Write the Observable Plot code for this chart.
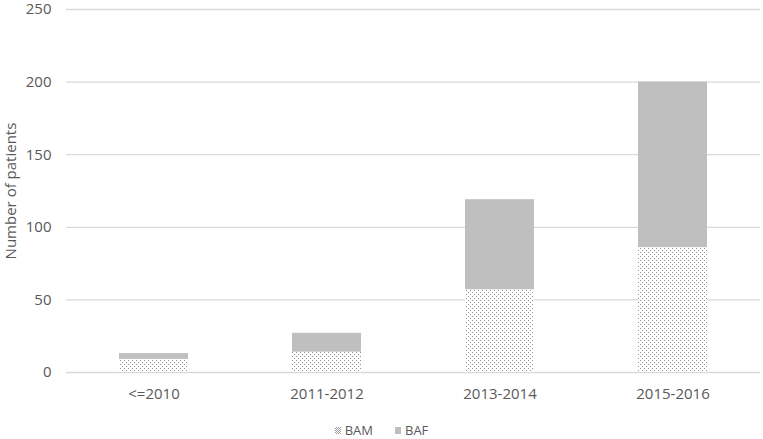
<!DOCTYPE html>
<html>
<head>
<meta charset="utf-8">
<script src="https://cdn.jsdelivr.net/npm/d3@7"></script>
<script src="https://cdn.jsdelivr.net/npm/@observablehq/plot@0.6"></script>
<style>
  html, body { margin: 0; padding: 0; background: white; }
  #chart { width: 763px; }
  .legend { height: 30px; display: flex; align-items: center; justify-content: center; font-family: "Open Sans", sans-serif; font-size: 13px; color: #595959; padding-left: 0px; }
  .legend .item { display: flex; align-items: center; margin: 0 11px; }
  .legend .sw { width: 6px; height: 7px; margin-right: 4px; }
</style>
</head>
<body>
<svg width="0" height="0" style="position:absolute">
  <defs>
    <pattern id="dots" width="4" height="4" patternUnits="userSpaceOnUse">
      <rect width="4" height="4" fill="#ffffff"></rect>
      <rect x="0" y="0" width="1" height="1" fill="#8f8f8f"></rect>
      <rect x="2" y="2" width="1" height="1" fill="#8f8f8f"></rect>
    </pattern>
  </defs>
</svg>
<div id="chart"></div>
<script>
const periods = ["<=2010", "2011-2012", "2013-2014", "2015-2016"];
const seriesNames = ["BAM", "BAF"];
const bam = [9, 14, 57, 86];
const baf = [4, 13, 62, 114];
const yTicks = [0, 50, 100, 150, 200, 250];
const yLabel = "Number of patients";
const seriesFills = ["url(#dots)", "#bfbfbf"];

const rows = [];
periods.forEach((p, i) => {
  rows.push({period: p, series: seriesNames[0], value: bam[i]});
  rows.push({period: p, series: seriesNames[1], value: baf[i]});
});

const chart = Plot.plot({
  width: 763,
  height: 415,
  marginLeft: 66,
  marginRight: 3,
  marginTop: 9,
  marginBottom: 43,
  style: {fontFamily: "'Open Sans', sans-serif", fontSize: "15px", color: "#595959", background: "white"},
  x: {domain: periods, paddingInner: 0.6, paddingOuter: 0.3, label: null},
  y: {domain: [0, 250], label: null},
  color: {domain: seriesNames, range: seriesFills},
  marks: [
    Plot.ruleY(yTicks, {stroke: "#d9d9d9", strokeWidth: 1.3}),
    Plot.barY(rows, Plot.stackY({x: "period", y: "value", fill: "series", order: null})),
    Plot.axisY(yTicks, {tickSize: 0, tickPadding: 15, label: null, fill: "#595959", fontSize: 15}),
    Plot.axisX({tickSize: 0, tickPadding: 16, label: null, fill: "#595959", fontSize: 15}),
    Plot.text([yLabel], {frameAnchor: "left", dx: -55, rotate: -90, textAnchor: "middle", fill: "#595959", fontSize: 15})
  ]
});
document.getElementById("chart").appendChild(chart);

const legend = d3.select("#chart").append("div").attr("class", "legend");
seriesNames.forEach((s, i) => {
  const item = legend.append("div").attr("class", "item");
  item.append("div").attr("class", "sw")
    .style("background", i === 0 ? "repeating-conic-gradient(#9a9a9a 0% 25%, #ffffff 0% 50%) 0 0 / 2px 2px" : seriesFills[i]);
  item.append("span").text(s);
});
</script>
</body>
</html>
